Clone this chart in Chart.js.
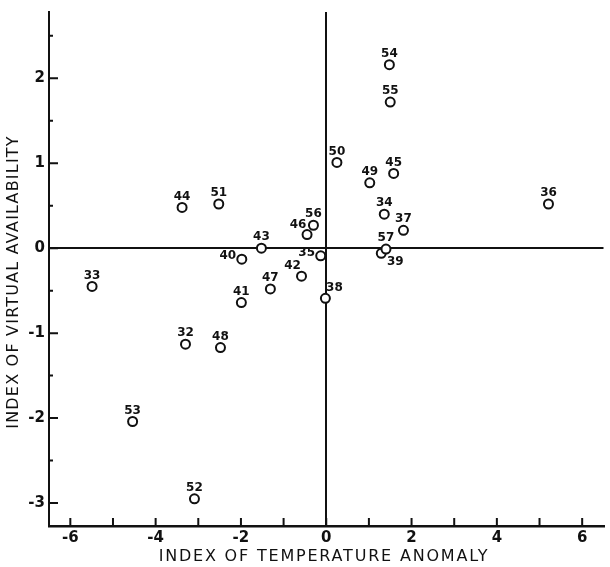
<!DOCTYPE html>
<html>
<head>
<meta charset="utf-8">
<script src="https://cdn.jsdelivr.net/npm/chart.js@4"></script>
<style>
  html, body { margin: 0; padding: 0; background: #fff; }
  #wrap { width: 610px; height: 567px; }
</style>
</head>
<body>
<div id="wrap"><canvas id="chart" width="610" height="567"></canvas></div>
<script>
// ── data ──
const YEARS = ['32','33','34','35','36','37','38','39','40','41','42','43','44',
               '45','46','47','48','49','50','51','52','53','54','55','56','57'];
const TEMP  = [-3.30,-5.49, 1.36,-0.13, 5.21, 1.81,-0.02, 1.29,-1.98,-1.99,-0.58,-1.52,-3.38,
                1.58,-0.45,-1.31,-2.48, 1.02, 0.25,-2.52,-3.09,-4.54, 1.48, 1.50,-0.30, 1.40];
const AVAIL = [-1.13,-0.45, 0.40,-0.09, 0.52, 0.21,-0.59,-0.06,-0.13,-0.64,-0.33, 0.00, 0.48,
                0.88, 0.16,-0.48,-1.17, 0.77, 1.01, 0.52,-2.95,-2.04, 2.16, 1.72, 0.27,-0.01];
const X_TICKS = [-6, -4, -2, 0, 2, 4, 6];
const Y_TICKS = [-3, -2, -1, 0, 1, 2];

// where a year's label sits relative to its circle (default: above)
const LABEL_SIDE = { '40': 'left', '35': 'left', '46': 'upleft', '42': 'upleft',
                     '38': 'upright', '39': 'downright' };
const LABEL_OFFSET = {
  above:     [0, -11],
  left:      [-14, -3],
  upleft:    [-9, -10],
  upright:   [9, -10],
  downright: [14, 9],
};

const INK = '#111';
const FONT = '"DejaVu Sans", sans-serif';

// tick marks pointing into the plot, majors + minors
const innerTicks = {
  id: 'innerTicks',
  afterDatasetsDraw(chart) {
    const { ctx, chartArea: a, scales: { x, y } } = chart;
    ctx.save();
    ctx.strokeStyle = INK;
    ctx.lineWidth = 2;
    ctx.beginPath();
    for (let v = -6; v <= 6; v++) {
      const px = x.getPixelForValue(v);
      ctx.moveTo(px, a.bottom);
      ctx.lineTo(px, a.bottom - 8);
    }
    for (let v = -3; v <= 2.5; v += 0.5) {
      const py = y.getPixelForValue(v);
      ctx.moveTo(a.left, py);
      ctx.lineTo(a.left + (Number.isInteger(v) ? 9 : 4), py);
    }
    ctx.stroke();
    ctx.restore();
  },
};

const yearLabels = {
  id: 'yearLabels',
  afterDatasetsDraw(chart) {
    const { ctx } = chart;
    const meta = chart.getDatasetMeta(0);
    ctx.save();
    ctx.fillStyle = INK;
    ctx.font = 'bold 12px ' + FONT;
    ctx.textAlign = 'center';
    ctx.textBaseline = 'middle';
    meta.data.forEach((pt, i) => {
      const off = LABEL_OFFSET[LABEL_SIDE[YEARS[i]] || 'above'];
      ctx.fillText(YEARS[i], pt.x + off[0], pt.y + off[1]);
    });
    ctx.restore();
  },
};

const axisTitles = {
  id: 'axisTitles',
  afterDraw(chart) {
    const { ctx } = chart;
    ctx.save();
    ctx.fillStyle = INK;
    ctx.font = '16px ' + FONT;
    ctx.textAlign = 'center';
    ctx.textBaseline = 'middle';
    ctx.letterSpacing = '1.8px';
    ctx.fillText('INDEX OF TEMPERATURE ANOMALY', 324, 557);
    ctx.translate(14, 282);
    ctx.rotate(-Math.PI / 2);
    ctx.letterSpacing = '1.2px';
    ctx.fillText('INDEX OF VIRTUAL AVAILABILITY', 0, 0);
    ctx.restore();
  },
};

const zeroLine = c => (c.tick && c.tick.value === 0 ? INK : 'rgba(0,0,0,0)');

new Chart(document.getElementById('chart'), {
  type: 'scatter',
  data: {
    datasets: [{
      data: TEMP.map((t, i) => ({ x: t, y: AVAIL[i] })),
      pointStyle: 'circle',
      pointRadius: 4.5,
      pointBorderWidth: 2,
      pointBorderColor: INK,
      pointBackgroundColor: '#fff',
    }],
  },
  options: {
    responsive: false,
    animation: false,
    layout: { padding: { top: 12, right: 2 } },
    plugins: { legend: { display: false }, tooltip: { enabled: false } },
    scales: {
      x: {
        type: 'linear',
        min: -6.5, max: 6.5,
        afterBuildTicks: s => { s.ticks = X_TICKS.map(v => ({ value: v })); },
        afterFit: s => { s.height = 41; s.paddingLeft = 0; s.paddingRight = 0; },
        ticks: { color: INK, font: { family: FONT, size: 15, weight: 'bold' }, padding: 3,
                 maxRotation: 0, autoSkip: false },
        grid: { color: zeroLine, lineWidth: 2, drawTicks: false },
        border: { display: true, color: INK, width: 2.5 },
      },
      y: {
        type: 'linear',
        min: -3.27, max: 2.78,
        afterBuildTicks: s => { s.ticks = Y_TICKS.map(v => ({ value: v })); },
        afterFit: s => { s.width = 49; s.paddingTop = 0; s.paddingBottom = 0; },
        ticks: { color: INK, font: { family: FONT, size: 15, weight: 'bold' }, padding: 4,
                 autoSkip: false },
        grid: { color: zeroLine, lineWidth: 2, drawTicks: false },
        border: { display: true, color: INK, width: 2 },
      },
    },
  },
  plugins: [innerTicks, yearLabels, axisTitles],
});
</script>
</body>
</html>
